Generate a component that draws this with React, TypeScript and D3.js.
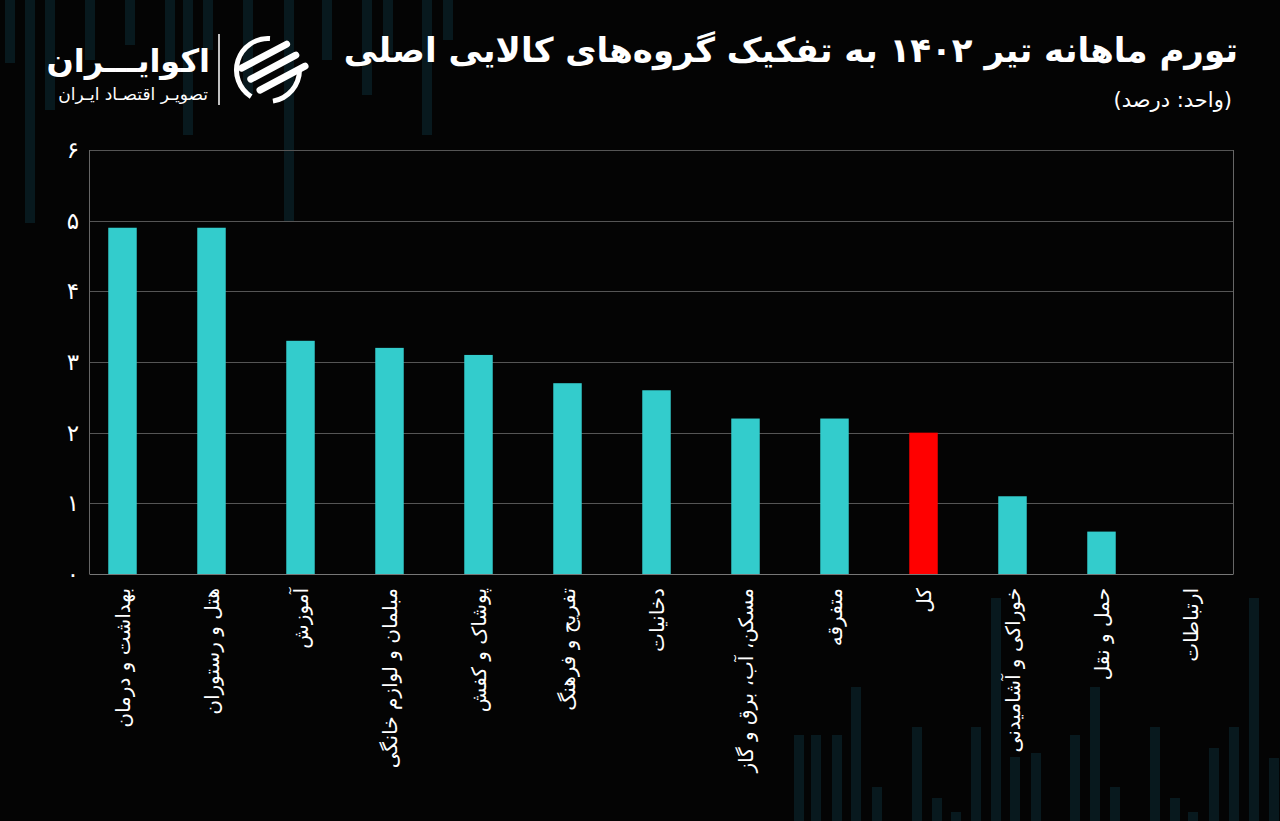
import React from "react";
import * as d3 from "d3";

const categories = [
  "بهداشت و درمان",
  "هتل و رستوران",
  "آموزش",
  "مبلمان و لوازم خانگی",
  "پوشاک و کفش",
  "تفریح و فرهنگ",
  "دخانیات",
  "مسکن، آب، برق و گاز",
  "متفرقه",
  "کل",
  "خوراکی و آشامیدنی",
  "حمل و نقل",
  "ارتباطات",
];
const values = [4.9, 4.9, 3.3, 3.2, 3.1, 2.7, 2.6, 2.2, 2.2, 2.0, 1.1, 0.6, 0];
const highlight = "کل";
const yTicks = [0, 1, 2, 3, 4, 5, 6];
const yTickLabels = ["۰", "۱", "۲", "۳", "۴", "۵", "۶"];
const title = "تورم ماهانه تیر ۱۴۰۲ به تفکیک گروه‌های کالایی اصلی";
const subtitle = "(واحد: درصد)";
const brand = "اکوایـــران";
const brandSub = "تصویـر اقتصـاد ایـران";

// decorative background strips (x, extent)
const decoTop: [number, number][] = [
  [10, 63], [30, 223], [50, 110], [90, 60], [130, 45], [170, 70], [188, 135], [208, 50],
  [248, 95], [289, 222], [327, 60], [367, 95], [388, 55], [427, 135], [448, 40],
];
const decoBottom: [number, number][] = [
  [799, 735], [816, 735], [837, 735], [856, 687], [877, 787], [917, 727], [937, 798], [956, 812],
  [976, 727], [996, 598], [1015, 757], [1036, 753], [1075, 735], [1095, 687], [1115, 787],
  [1155, 727], [1175, 798], [1193, 812], [1214, 748], [1234, 727], [1254, 598], [1274, 758],
];

const W = 1280;
const H = 821;
const FONT = "'DejaVu Sans', sans-serif";

export default function App() {
  const x = d3
    .scaleBand<string>()
    .domain(categories)
    .range([78, 1235])
    .paddingInner(0.68)
    .paddingOuter(0.34);
  const y = d3.scaleLinear().domain([0, 6]).range([574, 150]);
  const plotL = 89.5;
  const plotR = 1233.5;

  const ringArc = d3.arc<any>();
  const cx = 268;
  const cy = 70;
  const arcs = [
    { startAngle: Math.PI * 1.18, endAngle: Math.PI * 2.02 },
    { startAngle: Math.PI * 0.5, endAngle: Math.PI * 0.95 },
  ];
  const stripes = [-14, 0, 14];

  return (
    <svg
      width={W}
      height={H}
      style={{ position: "absolute", left: 0, top: 0, display: "block", background: "#040404" }}
    >
      <rect x={0} y={0} width={W} height={H} fill="#040404" />
      {decoTop.map(([dx, b], i) => (
        <rect key={"t" + i} x={dx - 5} y={0} width={10} height={b} fill="#08191e" />
      ))}
      {decoBottom.map(([dx, t], i) => (
        <rect key={"b" + i} x={dx - 5} y={t} width={10} height={H - t} fill="#08191e" />
      ))}

      {/* grid */}
      {yTicks.map((t) => (
        <line key={"g" + t} x1={plotL} x2={plotR} y1={Math.round(y(t)) + 0.5} y2={Math.round(y(t)) + 0.5}
          stroke={t === 0 ? "#777" : "#555"} strokeWidth={1} />
      ))}
      <line x1={plotL} x2={plotL} y1={y(6)} y2={y(0)} stroke="#666" strokeWidth={1} />
      <line x1={plotR} x2={plotR} y1={y(6)} y2={y(0)} stroke="#666" strokeWidth={1} />

      {yTicks.map((t, i) => (
        <text key={"yl" + t} x={79} y={y(t)} dy="0.35em" textAnchor="end" fill="#fff"
          fontFamily={FONT} fontSize={23}>
          {yTickLabels[i]}
        </text>
      ))}

      {/* bars */}
      {categories.map((c, i) => (
        <rect key={"bar" + i} x={x(c)!} y={y(values[i])} width={x.bandwidth()}
          height={y(0) - y(values[i])} fill={c === highlight ? "#ff0000" : "#33cccc"} />
      ))}

      {/* x labels */}
      {categories.map((c) => {
        const lx = x(c)! + x.bandwidth() / 2;
        return (
          <text key={"xl" + c} transform={`translate(${lx},588) rotate(-90)`} textAnchor="end"
            dy="0.35em" fill="#fff" fontFamily={FONT} fontSize={20}>
            {c}
          </text>
        );
      })}

      {/* title */}
      <text x={1238} y={62} textAnchor="end" fill="#fff" fontFamily={FONT} fontWeight="bold" fontSize={34}>
        {title}
      </text>
      <text x={1232} y={107} textAnchor="end" fill="#fff" fontFamily={FONT} fontSize={21}>
        {subtitle}
      </text>

      {/* logo */}
      <text x={210} y={72} textAnchor="end" fill="#fff" fontFamily={FONT} fontWeight="bold" fontSize={32}>
        {brand}
      </text>
      <text x={208} y={100} textAnchor="end" fill="#fff" fontFamily={FONT} fontSize={17}>
        {brandSub}
      </text>
      <line x1={219} x2={219} y1={34} y2={105} stroke="#fff" strokeWidth={1.5} />
      <g transform={`translate(${cx},${cy})`}>
        {arcs.map((a, i) => (
          <path key={"arc" + i} d={ringArc({ innerRadius: 29, outerRadius: 34, ...a }) || ""} fill="#fff" />
        ))}
        {stripes.map((o, i) => (
          <rect key={"s" + i} x={-26} y={o - 3.5} width={58} height={7} rx={3.5} fill="#fff"
            transform={`rotate(-28) translate(${i * 3},0)`} />
        ))}
      </g>
    </svg>
  );
}
